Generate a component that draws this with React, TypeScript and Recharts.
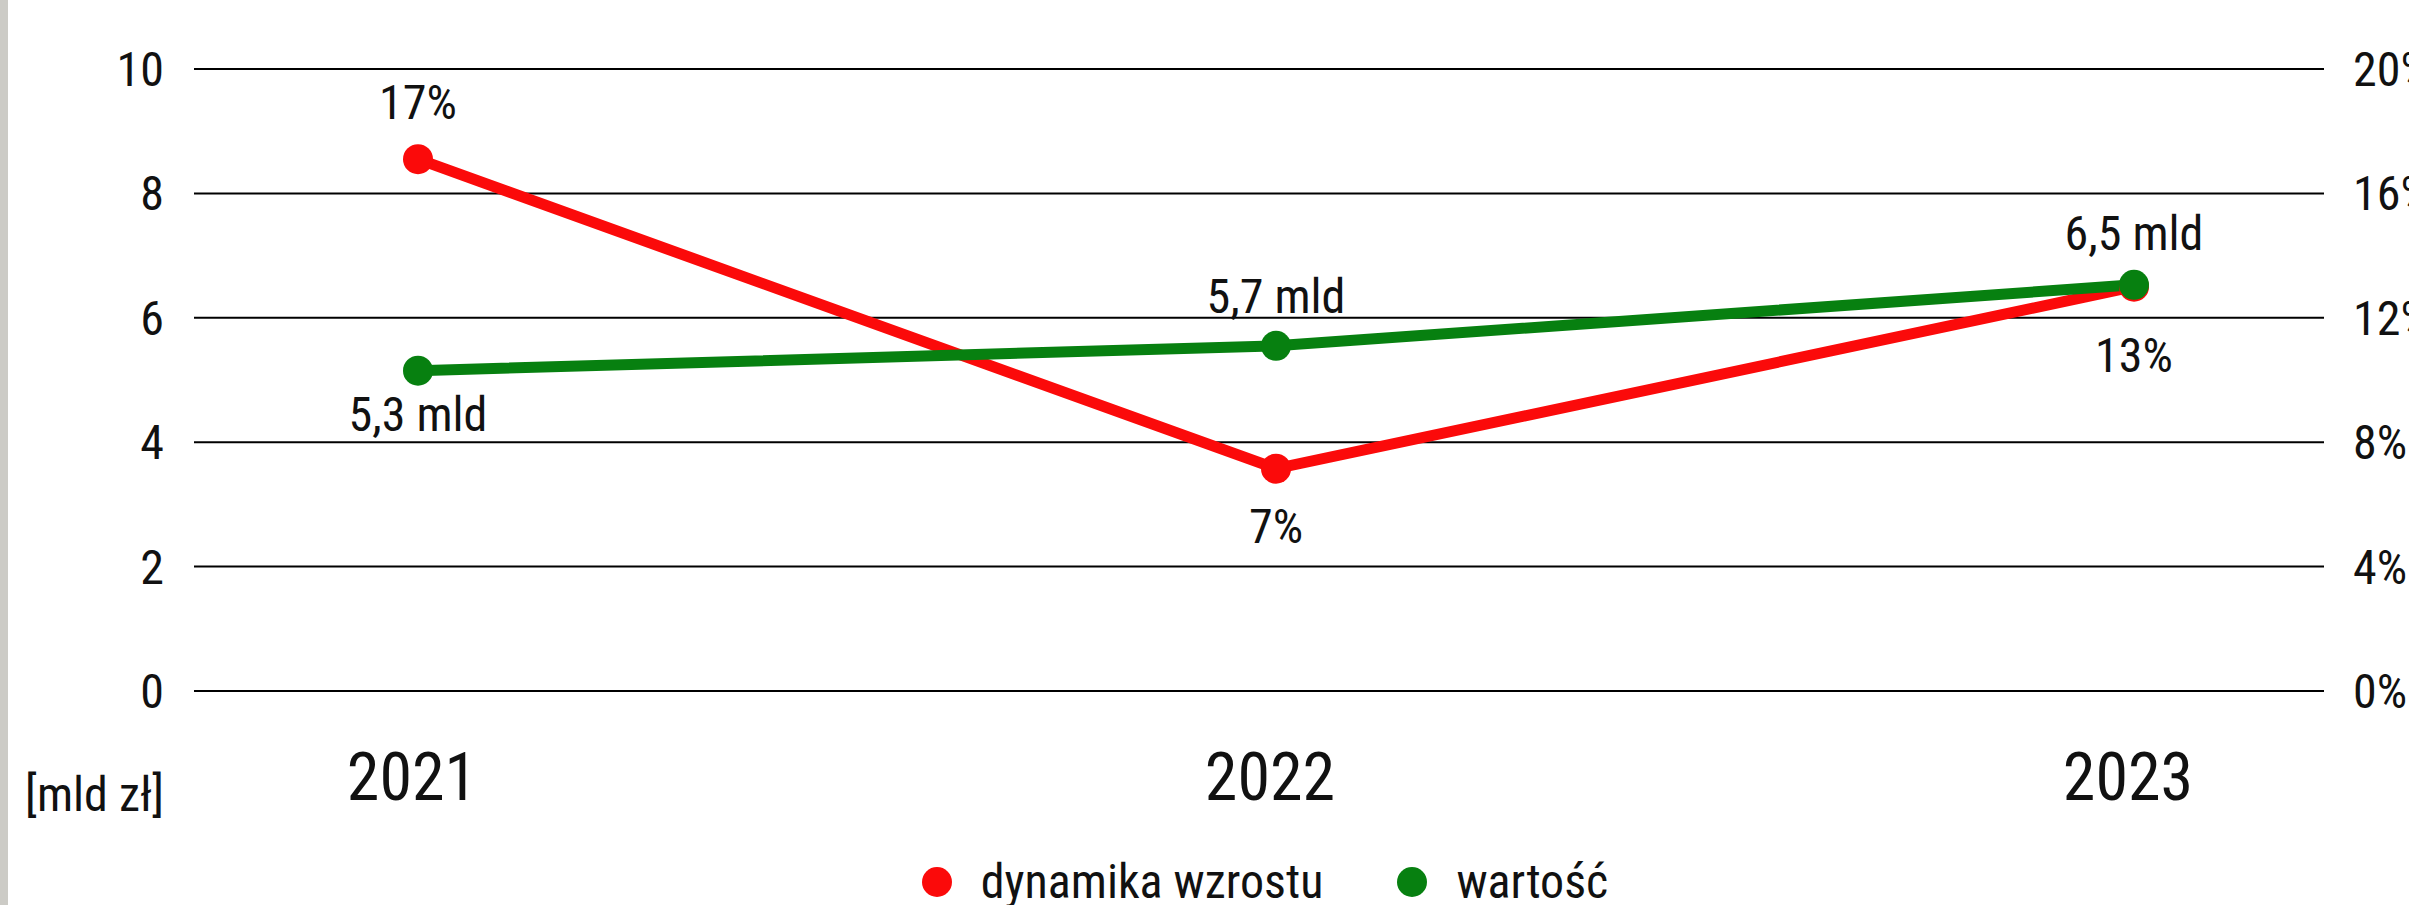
import React from "react";
import {
  LineChart,
  Line,
  XAxis,
  YAxis,
  CartesianGrid,
  Legend,
  LabelList,
} from "recharts";

// lata
const years = ["2021", "2022", "2023"];
// dynamika wzrostu [%] (prawa oś)
const growth = [17.1, 7.15, 13];
// wartość [mld zł] (lewa oś)
const value = [5.15, 5.55, 6.53];
const valueLabels = ["5,3 mld", "5,7 mld", "6,5 mld"];

const leftTicks = [0, 2, 4, 6, 8, 10];
const rightTicks = [0, 4, 8, 12, 16, 20];

const RED = "#fb0a0a";
const GREEN = "#078010";
const FONT =
  "'Roboto Condensed', 'Liberation Sans Narrow', 'DejaVu Sans Condensed', 'Arial Narrow', Roboto, sans-serif";

const data = years.map((year, i) => ({
  year,
  growth: growth[i],
  value: value[i],
}));

// przesunięcia etykiet względem punktów (linia bazowa tekstu)
const growthDy = [-40, 74, 85];
const valueDy = [60, -33, -35];

const makeLabel =
  (dys: number[], text: (v: number, i: number) => string) =>
  (props: any) => {
    const { x, y, value: v, index } = props;
    return (
      <text
        x={x}
        y={y + dys[index]}
        textAnchor="middle"
        fontSize={48}
        fontFamily={FONT}
        fill="#111"
      >
        {text(v, index)}
      </text>
    );
  };

const YearTick = ({ x, y, payload }: any) => (
  <text x={x - 6} y={y} dy={109} textAnchor="middle" fontSize={66} fontFamily={FONT} fill="#111">
    {payload.value}
  </text>
);

const LegendContent = () => {
  const items = [
    { name: "dynamika wzrostu", color: RED },
    { name: "wartość", color: GREEN },
  ];
  return (
    <div
      style={{
        display: "flex",
        justifyContent: "center",
        alignItems: "center",
        gap: 74,
        fontFamily: FONT,
        fontSize: 48,
        color: "#111",
        lineHeight: "48px",
      }}
    >
      {items.map((it) => (
        <div key={it.name} style={{ display: "flex", alignItems: "center", gap: 29 }}>
          <span
            style={{
              width: 30,
              height: 30,
              borderRadius: "50%",
              background: it.color,
              display: "inline-block",
            }}
          />
          <span>{it.name}</span>
        </div>
      ))}
    </div>
  );
};

export default function App() {
  return (
    <div
      style={{
        position: "absolute",
        left: 0,
        top: 0,
        width: 2409,
        height: 905,
        overflow: "hidden",
        background: "#fff",
      }}
    >
      <LineChart
        width={2409}
        height={905}
        data={data}
        margin={{ top: 69, right: 0, bottom: 0, left: 0 }}
      >
        <CartesianGrid yAxisId="left" vertical={false} stroke="#000" strokeWidth={2} />
        <XAxis
          dataKey="year"
          height={214}
          axisLine={false}
          tickLine={false}
          tickSize={0}
          tickMargin={0}
          padding={{ left: 224, right: 190 }}
          tick={<YearTick />}
          interval={0}
        />
        <YAxis
          yAxisId="left"
          orientation="left"
          width={194}
          domain={[0, 10]}
          ticks={leftTicks}
          axisLine={false}
          tickLine={false}
          tickSize={0}
          tickMargin={30}
          tick={{ fontSize: 48, fontFamily: FONT, fill: "#111" }}
          interval={0}
          label={{
            value: "[mld zł]",
            position: "insideBottomRight",
            offset: 0,
            dx: -30,
            dy: 120,
            fontSize: 48,
            fontFamily: FONT,
            fill: "#111",
          }}
        />
        <YAxis
          yAxisId="right"
          orientation="right"
          width={85}
          domain={[0, 20]}
          ticks={rightTicks}
          axisLine={false}
          tickLine={false}
          tickSize={0}
          tickMargin={29}
          tickFormatter={(v: number) => `${v}%`}
          tick={{ fontSize: 48, fontFamily: FONT, fill: "#111", textAnchor: "start" }}
          interval={0}
        />
        <Legend
          layout="horizontal"
          verticalAlign="middle"
          content={<LegendContent />}
          wrapperStyle={{ left: 200, top: 858, width: 2130 }}
        />
        <Line
          yAxisId="right"
          dataKey="growth"
          name="dynamika wzrostu"
          stroke={RED}
          strokeWidth={11}
          dot={{ r: 15, fill: RED, stroke: "none" }}
          activeDot={false}
          isAnimationActive={false}
        >
          <LabelList
            dataKey="growth"
            content={makeLabel(growthDy, (v) => `${Math.round(v)}%`)}
          />
        </Line>
        <Line
          yAxisId="left"
          dataKey="value"
          name="wartość"
          stroke={GREEN}
          strokeWidth={11}
          dot={{ r: 15, fill: GREEN, stroke: "none" }}
          activeDot={false}
          isAnimationActive={false}
        >
          <LabelList
            dataKey="value"
            content={makeLabel(valueDy, (_v, i) => valueLabels[i])}
          />
        </Line>
      </LineChart>
      <div
        style={{
          position: "absolute",
          left: 0,
          top: 0,
          width: 8,
          height: 905,
          background: "#cccbc6",
        }}
      />
    </div>
  );
}
